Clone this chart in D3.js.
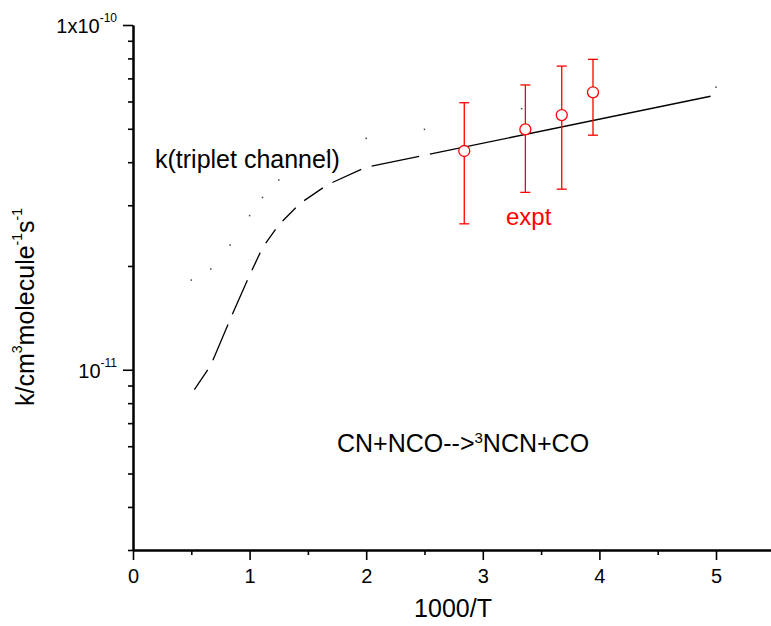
<!DOCTYPE html>
<html><head><meta charset="utf-8">
<script src="https://cdn.jsdelivr.net/npm/d3@7"></script>
<style>body{margin:0;background:#fff} text{font-family:"Liberation Sans",Arial,sans-serif}</style>
</head><body><svg id="c" width="771" height="626"></svg>
<script>
// ---- data ----
const xTicks = [0, 1, 2, 3, 4, 5];
const xMinorTicks = [0.5, 1.5, 2.5, 3.5, 4.5];
const yMajorTicks = [1e-11, 1e-10];
const yMinorTicks = [3e-12,4e-12,5e-12,6e-12,7e-12,8e-12,9e-12,2e-11,3e-11,4e-11,5e-11,6e-11,7e-11,8e-11,9e-11];
const yTickValues = [1e-10, 1e-11];
const yTickBase = ["1x10", "10"];
const yTickExp = ["-10", "-11"];

// triplet channel (dashed curve)
const tripX = [0.5, 0.667, 0.833, 1.0, 1.111, 1.25, 1.429, 1.667, 2.0, 2.5, 5.0];
const tripK = [8.5e-12, 1.03e-11, 1.40e-11, 1.88e-11, 2.26e-11, 2.63e-11, 3.03e-11, 3.44e-11, 3.87e-11, 4.19e-11, 6.26e-11];

// second curve (sparse dots)
const dotX = [0.5, 0.667, 0.833, 1.0, 1.111, 1.25, 1.429, 1.667, 2.0, 2.5, 3.333, 5.0];
const dotK = [1.82e-11, 1.96e-11, 2.30e-11, 2.80e-11, 3.16e-11, 3.55e-11, 3.93e-11, 4.29e-11, 4.69e-11, 4.98e-11, 5.72e-11, 6.60e-11];

// experiment
const exptX = [2.841, 3.365, 3.677, 3.945];
const exptK = [4.31e-11, 4.98e-11, 5.48e-11, 6.38e-11];
const exptLow = [2.65e-11, 3.27e-11, 3.34e-11, 4.79e-11];
const exptHigh = [5.95e-11, 6.70e-11, 7.60e-11, 7.95e-11];

// ---- chart ----
const svg = d3.select("#c");
svg.append("rect").attr("width", 771).attr("height", 626).attr("fill", "#fff");

const x = d3.scaleLinear().domain([0, 5.5]).range([133, 133 + 5.5 * 116.6]);
const y = d3.scaleLog().domain([3e-12, 1e-10]).range([550, 25]);

// axes
const gx = svg.append("g").attr("transform", "translate(0,550)");
gx.call(d3.axisBottom(x).tickValues(xMinorTicks).tickSize(5).tickFormat("").tickSizeOuter(0));
const gx2 = svg.append("g").attr("transform", "translate(0,550)");
gx2.call(d3.axisBottom(x).tickValues(xTicks).tickSize(10).tickPadding(9).tickSizeOuter(0).tickFormat(d3.format("d")));
const gy = svg.append("g").attr("transform", "translate(133,0)");
gy.call(d3.axisLeft(y).tickValues(yMinorTicks).tickSize(5).tickFormat("").tickSizeOuter(0));
const gy2 = svg.append("g").attr("transform", "translate(133,0)");
gy2.call(d3.axisLeft(y).tickValues(yMajorTicks).tickSize(10).tickFormat("").tickSizeOuter(0));

svg.selectAll(".domain").attr("stroke", "#000").attr("stroke-width", 2);
svg.selectAll(".tick line").attr("stroke", "#000").attr("stroke-width", 1.6);
gx2.selectAll(".tick text").attr("font-size", 20).attr("fill", "#000")
   .attr("font-family", "Liberation Sans, Arial, sans-serif");

// y tick labels with superscripts
yTickValues.forEach((v, i) => {
  const t = svg.append("text").attr("x", 117).attr("y", y(v) + 8)
    .attr("text-anchor", "end").attr("font-size", 20).attr("fill", "#000");
  t.append("tspan").text(yTickBase[i]);
  t.append("tspan").attr("font-size", 12).attr("dy", -11).text(yTickExp[i]);
});

// axis titles
svg.append("text").attr("x", 453).attr("y", 617).attr("text-anchor", "middle")
  .attr("font-size", 25).attr("fill", "#000").text("1000/T");

const yl = svg.append("text").attr("transform", "translate(34,307) rotate(-90)")
  .attr("text-anchor", "middle").attr("font-size", 25).attr("fill", "#000");
yl.append("tspan").text("k/cm");
yl.append("tspan").attr("font-size", 14).attr("dy", -12).text("3");
yl.append("tspan").attr("dy", 12).text("molecule");
yl.append("tspan").attr("font-size", 14).attr("dy", -12).text("-1");
yl.append("tspan").attr("dy", 12).text("s");
yl.append("tspan").attr("font-size", 14).attr("dy", -12).text("-1");

// dashed triplet curve: each segment trimmed near its data points
const line = d3.line().x(d => x(d[0])).y(d => y(d[1]));
const gap = 5.5;
for (let i = 0; i < tripX.length - 1; i++) {
  const p = svg.append("path")
    .attr("d", line([[tripX[i], tripK[i]], [tripX[i + 1], tripK[i + 1]]]))
    .attr("fill", "none").attr("stroke", "#000").attr("stroke-width", 1.3);
  const L = p.node().getTotalLength();
  p.attr("stroke-dasharray", `0 ${gap} ${Math.max(L - 2 * gap, 0)} ${L + gap}`);
}

// sparse dots curve
svg.append("g").selectAll("rect").data(dotX).join("rect")
  .attr("x", (d) => x(d) - 0.75).attr("y", (d, i) => y(dotK[i]) - 0.75)
  .attr("width", 1.5).attr("height", 1.5).attr("fill", "#444");

// experimental points with error bars
const red = "#ff0000";
const ge = svg.append("g");
exptX.forEach((xv, i) => {
  ge.append("line").attr("x1", x(xv)).attr("x2", x(xv))
    .attr("y1", y(exptLow[i])).attr("y2", y(exptHigh[i]))
    .attr("stroke", red).attr("stroke-width", 1.3);
  [exptLow[i], exptHigh[i]].forEach(v => {
    ge.append("line").attr("x1", x(xv) - 5).attr("x2", x(xv) + 5)
      .attr("y1", y(v)).attr("y2", y(v)).attr("stroke", red).attr("stroke-width", 1.3);
  });
  ge.append("circle").attr("cx", x(xv)).attr("cy", y(exptK[i])).attr("r", 5.5)
    .attr("fill", "#fff").attr("stroke", red).attr("stroke-width", 1.3);
});

// annotations
svg.append("text").attr("x", 155).attr("y", 168).attr("font-size", 25).attr("fill", "#000")
  .text("k(triplet channel)");
svg.append("text").attr("x", 506).attr("y", 225).attr("font-size", 24).attr("fill", red)
  .text("expt");
const rx = svg.append("text").attr("x", 337).attr("y", 452).attr("font-size", 25).attr("fill", "#000");
rx.append("tspan").text("CN+NCO-->");
rx.append("tspan").attr("font-size", 15).attr("dy", -9).text("3");
rx.append("tspan").attr("dy", 9).text("NCN+CO");
</script></body></html>
